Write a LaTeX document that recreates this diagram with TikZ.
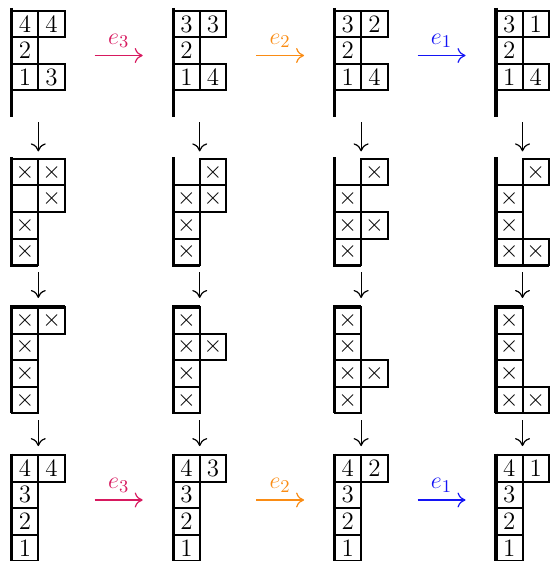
\documentclass[tikz,border=0pt]{standalone}
\usetikzlibrary{arrows.meta,calc}
\definecolor{ethree}{RGB}{215,25,95}
\definecolor{etwo}{RGB}{250,140,20}
\definecolor{eone}{RGB}{20,20,245}
\tikzset{
  cell/.style={draw, line width=1pt, minimum size=13.3pt, inner sep=0pt, anchor=center},
  axisline/.style={line width=1.6pt},
  dia/.style={minimum width=26.6pt, minimum height=53.2pt, inner sep=0pt, draw=none},
  arr/.style={line width=0.6pt, -{To[length=4pt,width=7.5pt]}},
  lab/.style={above=3.5pt, inner sep=0pt},
}
\newcommand{\fillcells}[4]{\foreach \ii/\jj/\qq in {#4} {\node[cell] (#1-\ii-\jj) at ({#2+26.6*(\jj-0.5)},{#3+26.6*(\ii-0.5)}) {\qq};}}
\begin{document}
\begin{tikzpicture}[x=0.5pt,y=-0.5pt,font=\fontsize{12.5}{15}\selectfont]
\useasboundingbox (0,0) rectangle (551,561);
% diagram frames (invisible)
\foreach \r/\T in {1/10.7,2/158.8,3/306.9,4/455.0}{
  \foreach \c/\X in {1/11.7,2/173.1,3/334.5,4/495.9}{
    \node[dia] (D\r\c) at ({\X+26.6},{\T+53.2}) {};
  }
}
% row 1
\fillcells{A1}{11.7}{10.7}{1/1/4,1/2/4,2/1/2,3/1/1,3/2/3}
\fillcells{A2}{173.1}{10.7}{1/1/3,1/2/3,2/1/2,3/1/1,3/2/4}
\fillcells{A3}{334.5}{10.7}{1/1/3,1/2/2,2/1/2,3/1/1,3/2/4}
\fillcells{A4}{495.9}{10.7}{1/1/3,1/2/1,2/1/2,3/1/1,3/2/4}
\foreach \X in {11.7,173.1,334.5,495.9}{\draw[axisline] (\X,8) -- (\X,117.1);}
% row 2
\fillcells{B1}{11.7}{158.8}{1/1/$\times$,1/2/$\times$,2/2/$\times$,3/1/$\times$,4/1/$\times$}
\fillcells{B2}{173.1}{158.8}{1/2/$\times$,2/1/$\times$,2/2/$\times$,3/1/$\times$,4/1/$\times$}
\fillcells{B3}{334.5}{158.8}{1/2/$\times$,2/1/$\times$,3/1/$\times$,3/2/$\times$,4/1/$\times$}
\fillcells{B4}{495.9}{158.8}{1/2/$\times$,2/1/$\times$,3/1/$\times$,4/1/$\times$,4/2/$\times$}
\foreach \X/\w in {11.7/26.6,173.1/26.6,334.5/26.6,495.9/53.2}{\draw[axisline] (\X,157.3) -- (\X,265.2) -- ({\X+\w},265.2);}
% row 3
\fillcells{C1}{11.7}{306.9}{1/1/$\times$,1/2/$\times$,2/1/$\times$,3/1/$\times$,4/1/$\times$}
\fillcells{C2}{173.1}{306.9}{1/1/$\times$,2/1/$\times$,2/2/$\times$,3/1/$\times$,4/1/$\times$}
\fillcells{C3}{334.5}{306.9}{1/1/$\times$,2/1/$\times$,3/1/$\times$,3/2/$\times$,4/1/$\times$}
\fillcells{C4}{495.9}{306.9}{1/1/$\times$,2/1/$\times$,3/1/$\times$,4/1/$\times$,4/2/$\times$}
\foreach \X/\w in {11.7/53.2,173.1/26.6,334.5/26.6,495.9/26.6}{\draw[axisline] ({\X+\w},306.9) -- (\X,306.9) -- (\X,413.3);}
% row 4
\fillcells{E1}{11.7}{455.0}{1/1/4,1/2/4,2/1/3,3/1/2,4/1/1}
\fillcells{E2}{173.1}{455.0}{1/1/4,1/2/3,2/1/3,3/1/2,4/1/1}
\fillcells{E3}{334.5}{455.0}{1/1/4,1/2/2,2/1/3,3/1/2,4/1/1}
\fillcells{E4}{495.9}{455.0}{1/1/4,1/2/1,2/1/3,3/1/2,4/1/1}
\foreach \X in {11.7,173.1,334.5,495.9}{\draw[axisline] (\X,453.5) -- (\X,566);}
% vertical arrows
\foreach \c in {1,2,3,4}{
  \draw[arr] ($(D1\c.south)+(0,5)$) -- ($(D2\c.north)+(0,-7)$);
  \draw[arr] ($(D2\c.south)+(0,6.5)$) -- ($(D3\c.north)+(0,-8.5)$);
  \draw[arr] ($(D3\c.south)+(0,6.5)$) -- ($(D4\c.north)+(0,-8.5)$);
}
% horizontal arrows
\foreach \r/\o in {1/-8.4,4/-8.2}{
  \draw[arr,ethree] ($(D\r1.east)+(29.4,\o)$) -- node[lab]{$e_3$} ($(D\r2.west)+(-30,\o)$);
  \draw[arr,etwo] ($(D\r2.east)+(29.4,\o)$) -- node[lab]{$e_2$} ($(D\r3.west)+(-30,\o)$);
  \draw[arr,eone] ($(D\r3.east)+(29.4,\o)$) -- node[lab]{$e_1$} ($(D\r4.west)+(-30,\o)$);
}
\end{tikzpicture}
\end{document}
